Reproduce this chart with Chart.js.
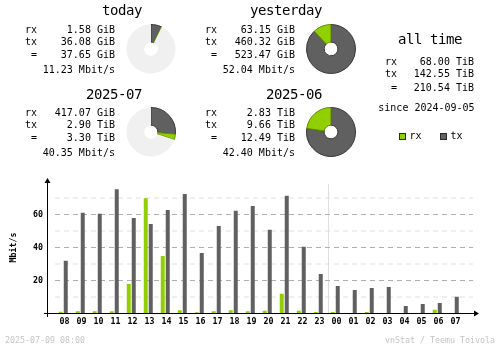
<!DOCTYPE html>
<html><head><meta charset="utf-8">
<script src="https://cdn.jsdelivr.net/npm/chart.js@4.4.0/dist/chart.umd.min.js"></script>
<style>
html,body{margin:0;padding:0;background:#fff;}
#wrap{position:relative;width:500px;height:348px;overflow:hidden;font-family:"DejaVu Sans Mono",monospace;color:#000;}
.t{position:absolute;white-space:pre;}
.s{font-size:10px;line-height:12px;}
.h{font-size:14px;line-height:16px;letter-spacing:-0.43px;}
.f{font-size:8.3px;line-height:10px;color:#c4c4c4;}
canvas{position:absolute;}
.sq{position:absolute;width:5px;height:5px;border:1px solid #2a2a2a;}
</style></head><body><div id="wrap">
<canvas id="bars" width="500" height="348" style="left:0;top:0;width:500px;height:348px"></canvas>
</div>
<script>
// ---- data ----
const periodTitles = ['today', 'yesterday', '2025-07', '2025-06'];
const periodRx = ['1.58 GiB', '63.15 GiB', '417.07 GiB', '2.83 TiB'];
const periodTx = ['36.08 GiB', '460.32 GiB', '2.90 TiB', '9.66 TiB'];
const periodTotal = ['37.65 GiB', '523.47 GiB', '3.30 TiB', '12.49 TiB'];
const periodRate = ['11.23 Mbit/s', '52.04 Mbit/s', '40.35 Mbit/s', '42.40 Mbit/s'];
const rowLabels = ['rx', 'tx', '='];
const donutTx = [36.08, 460.32, 2.90, 9.66];
const donutRx = [1.58, 63.15, 0.41, 2.83];
const donutRest = [485.8, 0, 7.7, 0];
const allTimeTitle = 'all time';
const allTimeValues = ['68.00 TiB', '142.55 TiB', '210.54 TiB'];
const sinceText = 'since 2024-09-05';
const legendLabels = ['rx', 'tx'];
const hours = ['08','09','10','11','12','13','14','15','16','17','18','19','20','21','22','23','00','01','02','03','04','05','06','07'];
const rxRate = [1.0, 1.4, 1.4, 1.4, 17.9, 69.9, 34.9, 2.0, 0.8, 1.4, 2.0, 1.4, 1.6, 11.9, 1.6, 0.9, 0.9, 0, 0.9, 0, 0, 0, 2.2, 0];
const txRate = [31.9, 61.0, 60.4, 75.3, 57.9, 54.3, 62.8, 72.5, 36.7, 53.1, 62.2, 65.2, 50.7, 71.3, 40.4, 24.0, 16.7, 14.3, 15.5, 16.1, 4.6, 5.8, 6.4, 10.1];
const yTickLabels = [20, 40, 60];
const yGridValues = [10, 20, 30, 40, 50, 60, 70];
const yAxisTitle = 'Mbit/s';
const stampText = '2025-07-09 08:00';
const creditText = 'vnStat / Teemu Toivola';

const RX = '#92cf00', TX = '#606060', RXD = '#5f8a00', TXD = '#383838', PIE = '#f0f0f0';
const MONO = 'DejaVu Sans Mono';
const wrap = document.getElementById('wrap');

function txt(s, cls, x, base, align) {
  const d = document.createElement('div');
  d.className = 't ' + cls;
  d.textContent = s;
  const off = {s: 9.46, h: 12.84, f: 7.87}[cls];
  d.style.top = (base - off) + 'px';
  if (align === 'right') d.style.right = (500 - x) + 'px'; else d.style.left = x + 'px';
  wrap.appendChild(d);
}

// ---- summary blocks ----
const titleBase = [14.5, 98.9];
const rowBase = [33.3, 45.3, 58.3, 73.3];
for (let i = 0; i < 4; i++) {
  const dx = (i % 2) * 180, row = Math.floor(i / 2), dy = row * 82.7;
  txt(periodTitles[i], 'h', 142 + dx, titleBase[row], 'right');
  const vals = [periodRx[i], periodTx[i], periodTotal[i], periodRate[i]];
  for (let r = 0; r < 4; r++) {
    if (r < 3) txt(rowLabels[r], 's', 37 + dx, rowBase[r] + dy, 'right');
    txt(vals[r], 's', 115 + dx, rowBase[r] + dy, 'right');
  }
  const c = document.createElement('canvas');
  c.width = 50; c.height = 50;
  c.style.left = (126 + dx) + 'px';
  c.style.top = (24 + row * 83) + 'px';
  c.style.width = '50px'; c.style.height = '50px';
  wrap.appendChild(c);
  new Chart(c, {
    type: 'doughnut',
    data: { labels: ['tx', 'rx', ''], datasets: [{
      data: [donutTx[i], donutRx[i], donutRest[i]],
      backgroundColor: [TX, RX, PIE],
      borderColor: [TXD, RXD, PIE],
      borderWidth: [1, 1, 0]
    }]},
    options: { responsive: false, animation: false, events: [], cutout: '28%',
      plugins: { legend: { display: false }, tooltip: { enabled: false } } }
  });
}

// ---- all time ----
txt(allTimeTitle, 'h', 398, 44.3, 'left');
const atBase = [65.3, 77.3, 91.3];
for (let r = 0; r < 3; r++) {
  txt(rowLabels[r], 's', 397, atBase[r], 'right');
  txt(allTimeValues[r], 's', 474, atBase[r], 'right');
}
txt(sinceText, 's', 378.3, 111.3, 'left');
const legX = [399, 440], legCol = [RX, TX];
for (let k = 0; k < 2; k++) {
  const sq = document.createElement('div');
  sq.className = 'sq';
  sq.style.left = legX[k] + 'px'; sq.style.top = '133px';
  sq.style.background = legCol[k];
  wrap.appendChild(sq);
  txt(legendLabels[k], 's', legX[k] + 10.5, 139.3, 'left');
}

// ---- footer ----
txt(stampText, 'f', 5, 342.7, 'left');
txt(creditText, 'f', 495, 342.7, 'right');

// ---- hourly bars ----
const vnAxes = {
  id: 'vnaxes',
  beforeDatasetsDraw(chart) {
    const {ctx, chartArea: a, scales: {x, y}} = chart;
    ctx.save();
    ctx.lineWidth = 1;
    // day separator
    const vx = Math.floor((x.getPixelForValue(15) + x.getPixelForValue(16)) / 2) + 0.5;
    ctx.strokeStyle = '#dedede';
    ctx.beginPath(); ctx.moveTo(vx, a.top + 2.5); ctx.lineTo(vx, a.bottom); ctx.stroke();
    ctx.setLineDash([5, 4]);
    for (const v of yGridValues) {
      const py = y.getPixelForValue(v);
      ctx.strokeStyle = (v % 20 === 0) ? '#b0b0b0' : '#e0e0e0';
      ctx.beginPath(); ctx.moveTo(a.left - 1, py); ctx.lineTo(a.right + 9, py); ctx.stroke();
    }
    ctx.restore();
  },
  afterDatasetsDraw(chart) {
    const {ctx, chartArea: a, scales: {y}} = chart;
    const by = y.getPixelForValue(0);
    const ax = a.left - 8.5;
    ctx.save();
    ctx.strokeStyle = '#000'; ctx.fillStyle = '#000'; ctx.lineWidth = 1;
    ctx.beginPath();
    ctx.moveTo(a.left - 12, by); ctx.lineTo(a.right + 11, by);
    ctx.moveTo(ax, by + 3.5); ctx.lineTo(ax, a.top - 1);
    ctx.stroke();
    ctx.beginPath();
    ctx.moveTo(a.right + 10, by - 3); ctx.lineTo(a.right + 15, by); ctx.lineTo(a.right + 10, by + 3); ctx.closePath();
    ctx.fill();
    ctx.beginPath();
    ctx.moveTo(ax - 3, a.top + 1.5); ctx.lineTo(ax, a.top - 3.5); ctx.lineTo(ax + 3, a.top + 1.5); ctx.closePath();
    ctx.fill();
    ctx.restore();
  }
};

const nulls = hours.map(() => null);
const tickFont = { family: MONO, size: 8.3, weight: 'bold' };
new Chart(document.getElementById('bars'), {
  type: 'bar',
  data: {
    labels: hours,
    datasets: [
      { label: 'rx', data: rxRate, backgroundColor: RX, xAxisID: 'x', stack: 'a', order: 2 },
      { label: '', data: nulls, xAxisID: 'x', stack: 'b', order: 3 },
      { label: '', data: nulls, xAxisID: 'x2', stack: 'c', order: 0 },
      { label: 'tx', data: txRate, backgroundColor: TX, xAxisID: 'x2', stack: 'd', order: 1 }
    ]
  },
  options: {
    responsive: false, animation: false, events: [],
    layout: { padding: { top: 181.5, left: 0, right: 36, bottom: 0 } },
    datasets: { bar: { categoryPercentage: 10 / 17, barPercentage: 1.6, borderWidth: 0 } },
    plugins: { legend: { display: false }, tooltip: { enabled: false } },
    scales: {
      x: {
        type: 'category', offset: true,
        grid: { display: false, drawTicks: false }, border: { display: false },
        ticks: { autoSkip: false, maxRotation: 0, minRotation: 0, padding: 3, color: '#000', font: tickFont },
        afterFit(s) { s.height = 34.5; }
      },
      x2: { type: 'category', offset: true, display: false },
      y: {
        min: 0, max: 80,
        grid: { display: false, drawTicks: false }, border: { display: false },
        ticks: { stepSize: 10, padding: 13, color: '#000', font: tickFont,
          callback: (v) => yTickLabels.includes(v) ? String(v) : '' },
        title: { display: true, text: yAxisTitle, color: '#000', font: tickFont, padding: { top: 9, bottom: 0 } },
        afterFit(s) { s.width = 56; }
      }
    }
  },
  plugins: [vnAxes]
});
</script>
</body></html>
